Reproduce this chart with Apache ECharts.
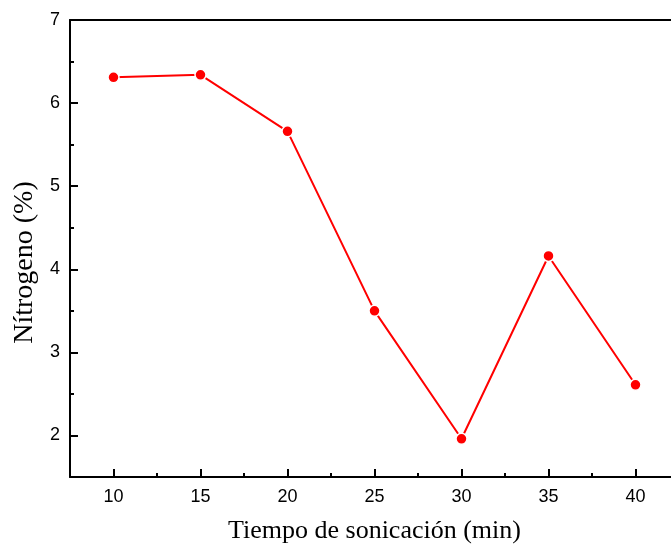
<!DOCTYPE html>
<html>
<head>
<meta charset="utf-8">
<script src="https://cdn.jsdelivr.net/npm/echarts@6/dist/echarts.min.js"></script>
<style>
  html, body { margin: 0; padding: 0; background: #fff; }
  #chart { width: 671px; height: 548px; }
</style>
</head>
<body>
<div id="chart"></div>
<script>
// tiempo de sonicación (min) vs nitrógeno (%)
let tiempo = [10, 15, 20, 25, 30, 35, 40];
let nitrogeno = [6.31, 6.34, 5.66, 3.50, 1.96, 4.16, 2.61];

let xMajor = [10, 15, 20, 25, 30, 35, 40];
let xMinor = [12.5, 17.5, 22.5, 27.5, 32.5, 37.5, 42.5];
let yMajor = [2, 3, 4, 5, 6, 7];
let yMinor = [2.5, 3.5, 4.5, 5.5, 6.5];

let lineColor = '#ff0000';
let axisColor = '#000';
let tickFont = 'Liberation Sans, Arial, sans-serif';
let nameFont = 'Liberation Serif, Times New Roman, serif';

let chart = echarts.init(document.getElementById('chart'));

let option = {
  backgroundColor: '#fff',
  animation: false,
  grid: {left: 70, top: 20, right: -8, bottom: 71, outerBoundsMode: 'none', containLabel: false},
  xAxis: [
    {
      type: 'value',
      min: 7.5,
      max: 42.5,
      interval: 2.5,
      name: 'Tiempo de sonicación (min)',
      nameLocation: 'middle',
      nameGap: 41,
      nameTextStyle: {fontFamily: nameFont, fontSize: 26, color: '#000'},
      axisLine: {onZero: false, lineStyle: {color: axisColor, width: 2}},
      axisTick: {show: true, inside: true, length: 8, customValues: xMajor, lineStyle: {color: axisColor, width: 2}},
      axisLabel: {customValues: xMajor, margin: 11, fontFamily: tickFont, fontSize: 18, color: '#000'},
      splitLine: {show: false}
    },
    {
      type: 'value',
      min: 7.5,
      max: 42.5,
      position: 'bottom',
      axisLine: {show: false},
      axisTick: {show: true, inside: true, length: 4, customValues: xMinor, lineStyle: {color: axisColor, width: 2}},
      axisLabel: {show: false},
      splitLine: {show: false}
    },
    {
      type: 'value',
      min: 7.5,
      max: 42.5,
      position: 'top',
      axisLine: {show: true, lineStyle: {color: axisColor, width: 2}},
      axisTick: {show: false},
      axisLabel: {show: false},
      splitLine: {show: false}
    }
  ],
  yAxis: [
    {
      type: 'value',
      min: 1.5,
      max: 7,
      interval: 0.5,
      name: 'Nítrogeno (%)',
      nameLocation: 'middle',
      nameGap: 30,
      nameRotate: 90,
      nameTextStyle: {fontFamily: nameFont, fontSize: 28, color: '#000', padding: [0, 28, 0, 0]},
      axisLine: {show: true, onZero: false, lineStyle: {color: axisColor, width: 2}},
      axisTick: {show: true, inside: true, length: 8, customValues: yMajor, lineStyle: {color: axisColor, width: 2}},
      axisLabel: {customValues: yMajor, margin: 10, fontFamily: tickFont, fontSize: 18, color: '#000'},
      splitLine: {show: false}
    },
    {
      type: 'value',
      min: 1.5,
      max: 7,
      position: 'left',
      axisLine: {show: false},
      axisTick: {show: true, inside: true, length: 4, customValues: yMinor, lineStyle: {color: axisColor, width: 2}},
      axisLabel: {show: false},
      splitLine: {show: false}
    }
  ],
  series: [
    {
      type: 'line',
      data: tiempo.map((t, i) => [t, nitrogeno[i]]),
      symbol: 'circle',
      symbolSize: 11,
      itemStyle: {color: lineColor, borderColor: '#fff', borderWidth: 1.5},
      lineStyle: {color: lineColor, width: 2}
    }
  ]
};

chart.setOption(option);
</script>
</body>
</html>
